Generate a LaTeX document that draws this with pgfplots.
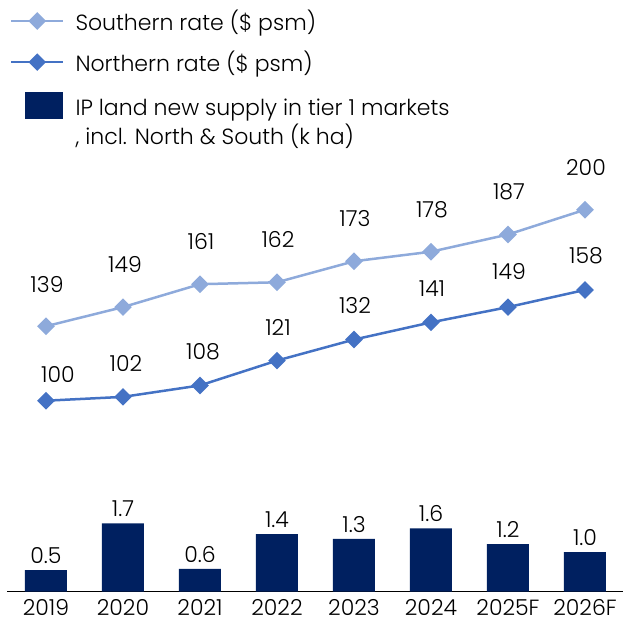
\documentclass[border=0pt]{standalone}
\usepackage{pgfplots}
\pgfplotsset{compat=1.18}
\usepackage{fontspec}
\setmainfont{Poppins}[UprightFont=* Light]
\definecolor{navy}{HTML}{002060}
\definecolor{south}{HTML}{8EAADB}
\definecolor{north}{HTML}{4472C4}
\newcommand{\chartfont}{\fontsize{22}{28}\selectfont}
\begin{document}
\begin{tikzpicture}
\useasboundingbox (0,0) rectangle (627pt,624pt);
% bars
\begin{axis}[
  at={(7.5pt,32.3pt)}, anchor=south west,
  scale only axis, width=616pt, height=591.7pt,
  xmin=-0.5, xmax=7.5, ymin=0, ymax=14.79,
  axis y line=none, axis x line*=bottom,
  x axis line style={-, black, line width=1.4pt},
  xtick={0,...,7},
  xticklabels={2019,2020,2021,2022,2023,2024,2025F,2026F},
  major tick length=0pt,
  xticklabel style={font=\chartfont, inner sep=0pt, yshift=-7.5pt},
  clip=false,
]
\addplot[ybar, bar width=42pt, fill=navy, draw=none,
  point meta=explicit symbolic,
  nodes near coords,
  every node near coord/.append style={font=\chartfont, text=black, anchor=south, inner sep=0pt, yshift=6.5pt},
] coordinates {
 (0,0.54) [0.5]
 (1,1.71) [1.7]
 (2,0.57) [0.6]
 (3,1.44) [1.4]
 (4,1.32) [1.3]
 (5,1.58) [1.6]
 (6,1.19) [1.2]
 (7,0.99) [1.0]
};
\end{axis}
% lines
\begin{axis}[
  at={(7.5pt,32.3pt)}, anchor=south west,
  scale only axis, width=616pt, height=591.7pt,
  xmin=-0.5, xmax=7.5, ymin=0, ymax=309.8,
  hide axis, clip=false,
  legend cell align=left,
  legend style={at={(0,1)}, anchor=north west, xshift=2.5pt, yshift=-10pt,
    draw=none, fill=none, inner sep=0pt, outer sep=0pt,
    row sep=19pt, column sep=11pt,
    nodes={inner sep=0pt, font=\chartfont}},
]
\addplot[south, line width=2.5pt, mark=square*, mark size=5pt,
  mark options={rotate=45, solid},
  point meta=explicit symbolic,
  visualization depends on={value \thisrow{dx}\as\mydx},
  visualization depends on={value \thisrow{dy}\as\mydy},
  nodes near coords,
  every node near coord/.append style={font=\chartfont, text=black, anchor=south, inner sep=0pt, xshift=\mydx pt, yshift=\mydy pt},
  legend image code/.code={\draw[south, line width=2.5pt] (0pt,0pt) -- (52pt,0pt); \fill[south] (26pt,0pt) +(-7pt,0pt) -- +(0pt,7pt) -- +(7pt,0pt) -- +(0pt,-7pt) -- cycle;},
] table[x=x, y=y, meta=lab] {
x y lab dx dy
0 139 139 1 32
1 149 149 2 33
2 161 161 1 33
3 162 162 1 33
4 173 173 1 33
5 178 178 1 33
6 187 187 1 33
7 200 200 1 33
};
\addlegendentry{Southern rate (\$ psm)}
\addplot[north, line width=2.5pt, mark=square*, mark size=5pt,
  mark options={rotate=45, solid},
  point meta=explicit symbolic,
  visualization depends on={value \thisrow{dx}\as\mydx},
  visualization depends on={value \thisrow{dy}\as\mydy},
  nodes near coords,
  every node near coord/.append style={font=\chartfont, text=black, anchor=south, inner sep=0pt, xshift=\mydx pt, yshift=\mydy pt},
  legend image code/.code={\draw[north, line width=2.5pt] (0pt,0pt) -- (52pt,0pt); \fill[north] (26pt,0pt) +(-7pt,0pt) -- +(0pt,7pt) -- +(7pt,0pt) -- +(0pt,-7pt) -- cycle;},
] table[x=x, y=y, meta=lab] {
x y lab dx dy
0 100 100 12 17.4
1 102 102 3 24
2 108 108 3 24.5
3 121 121 1 24
4 132 132 1 24.5
5 141 141 1 25
6 149 149 1 26
7 158 158 1 25
};
\addlegendentry{Northern rate (\$ psm)}
\addlegendimage{draw=none, legend image code/.code={\path[draw=none, fill=none] (0pt,0pt) -- (52pt,0pt); \fill[navy] (14pt,6pt) rectangle (52pt,33pt);}}
\addlegendentry{\raisebox{7pt}[\dimexpr\height-7pt\relax][\depth]{\renewcommand{\arraystretch}{0.93}\begin{tabular}{@{}l@{}}IP land new supply in tier 1 markets\\, incl. North \& South (k ha)\end{tabular}}}
\end{axis}
\end{tikzpicture}
\end{document}
